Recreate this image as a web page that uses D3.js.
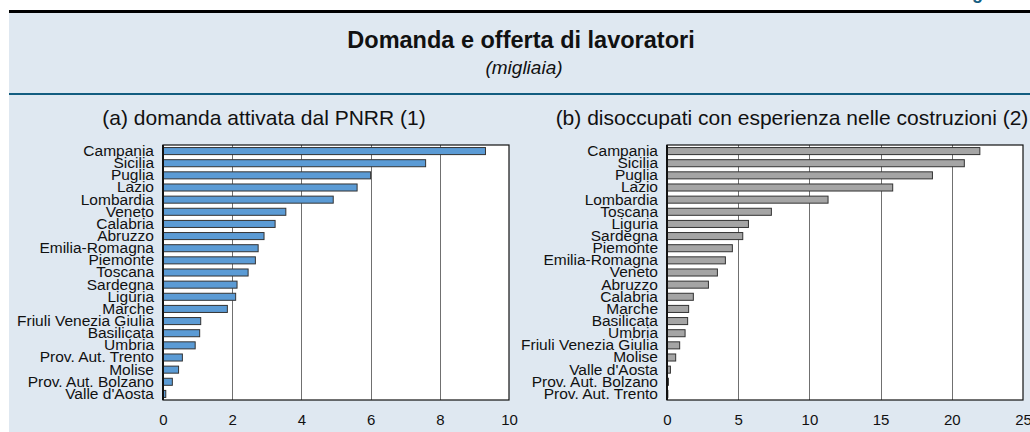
<!DOCTYPE html>
<html>
<head>
<meta charset="utf-8">
<script src="https://cdn.jsdelivr.net/npm/d3@7"></script>
<style>
  body { margin: 0; background: #fff; }
  svg { display: block; font-family: "Liberation Sans", Arial, sans-serif; }
</style>
</head>
<body>
<script>
// panel (a): demand activated by PNRR, thousands
const regionsA = ['Campania', 'Sicilia', 'Puglia', 'Lazio', 'Lombardia', 'Veneto', 'Calabria', 'Abruzzo',
  'Emilia-Romagna', 'Piemonte', 'Toscana', 'Sardegna', 'Liguria', 'Marche', 'Friuli Venezia Giulia',
  'Basilicata', 'Umbria', 'Prov. Aut. Trento', 'Molise', 'Prov. Aut. Bolzano', "Valle d'Aosta"];
const valuesA = [9.32, 7.59, 6.0, 5.61, 4.92, 3.55, 3.24, 2.92, 2.75, 2.67, 2.46, 2.14, 2.1, 1.86,
  1.09, 1.06, 0.93, 0.56, 0.45, 0.27, 0.08];
const ticksA = [0, 2, 4, 6, 8, 10];

// panel (b): unemployed with experience in construction, thousands
const regionsB = ['Campania', 'Sicilia', 'Puglia', 'Lazio', 'Lombardia', 'Toscana', 'Liguria', 'Sardegna',
  'Piemonte', 'Emilia-Romagna', 'Veneto', 'Abruzzo', 'Calabria', 'Marche', 'Basilicata', 'Umbria',
  'Friuli Venezia Giulia', 'Molise', "Valle d'Aosta", 'Prov. Aut. Bolzano', 'Prov. Aut. Trento'];
const valuesB = [21.97, 20.88, 18.64, 15.85, 11.31, 7.33, 5.72, 5.32, 4.59, 4.1, 3.54, 2.91, 1.85,
  1.52, 1.45, 1.27, 0.89, 0.61, 0.24, 0.1, 0.06];
const ticksB = [0, 5, 10, 15, 20, 25];

const W = 1030, H = 432;
const svg = d3.select('body').append('svg')
  .attr('width', W)
  .attr('height', H);

// header band
svg.append('rect')
  .attr('x', 9).attr('y', 13)
  .attr('width', W).attr('height', H)
  .attr('fill', '#dfe8f1');
svg.append('rect')
  .attr('x', 9).attr('y', 10)
  .attr('width', W).attr('height', 3)
  .attr('fill', '#000');
svg.append('rect')
  .attr('x', 9).attr('y', 93)
  .attr('width', W).attr('height', 2)
  .attr('fill', '#135d80');
svg.append('text')
  .attr('x', 956).attr('y', -1)
  .attr('font-size', 18).attr('font-weight', 'bold')
  .attr('fill', '#135d80')
  .text('Figura');

svg.append('text')
  .attr('x', 521).attr('y', 48)
  .attr('text-anchor', 'middle')
  .attr('font-size', 23.5).attr('font-weight', 'bold')
  .attr('fill', '#111')
  .text('Domanda e offerta di lavoratori');
svg.append('text')
  .attr('x', 524).attr('y', 74)
  .attr('text-anchor', 'middle')
  .attr('font-size', 19).attr('font-style', 'italic')
  .attr('fill', '#111')
  .text('(migliaia)');

function panel(opts) {
  const top = 145, bottom = 400;
  const x = d3.scaleLinear()
    .domain([0, opts.max])
    .range([opts.left, opts.right]);
  const y = d3.scaleBand()
    .domain(opts.regions)
    .range([top, bottom])
    .paddingInner(0.42)
    .paddingOuter(0.21);

  svg.append('text')
    .attr('x', opts.titleX).attr('y', 125)
    .attr('text-anchor', 'middle')
    .attr('font-size', 21)
    .attr('fill', '#111')
    .text(opts.title);

  svg.append('rect')
    .attr('x', opts.left).attr('y', top)
    .attr('width', opts.right - opts.left).attr('height', bottom - top)
    .attr('fill', '#fff');

  // gridlines
  svg.append('g')
    .selectAll('line')
    .data(opts.ticks.slice(1, -1))
    .enter()
    .append('line')
    .attr('x1', d => Math.round(x(d)) + 0.5)
    .attr('x2', d => Math.round(x(d)) + 0.5)
    .attr('y1', top)
    .attr('y2', bottom)
    .attr('stroke', '#707070')
    .attr('stroke-width', 1);

  svg.append('g')
    .selectAll('rect')
    .data(opts.values)
    .enter()
    .append('rect')
    .attr('x', x(0))
    .attr('y', (d, i) => y(opts.regions[i]))
    .attr('width', d => x(d) - x(0))
    .attr('height', y.bandwidth())
    .attr('fill', opts.color)
    .attr('stroke', '#333')
    .attr('stroke-width', 1);

  // frame
  svg.append('rect')
    .attr('x', opts.left).attr('y', top)
    .attr('width', opts.right - opts.left).attr('height', bottom - top)
    .attr('fill', 'none')
    .attr('stroke', '#111')
    .attr('stroke-width', 1.2);
  svg.append('line')
    .attr('x1', opts.left).attr('x2', opts.left)
    .attr('y1', top).attr('y2', bottom)
    .attr('stroke', '#111').attr('stroke-width', 2);

  const yAxis = d3.axisLeft(y).tickSize(0).tickPadding(9);
  const gy = svg.append('g')
    .attr('transform', `translate(${opts.left},0)`)
    .call(yAxis);
  gy.select('.domain').remove();
  gy.selectAll('text')
    .attr('font-size', 15.5)
    .attr('font-family', '"Liberation Sans", Arial, sans-serif')
    .attr('fill', '#111');

  const xAxis = d3.axisBottom(x).tickValues(opts.ticks).tickSize(0).tickPadding(14);
  const gx = svg.append('g')
    .attr('transform', `translate(0,${bottom})`)
    .call(xAxis);
  gx.select('.domain').remove();
  gx.selectAll('text')
    .attr('font-size', 15)
    .attr('font-family', '"Liberation Sans", Arial, sans-serif')
    .attr('fill', '#111');
}

panel({
  regions: regionsA, values: valuesA, ticks: ticksA, max: 10,
  left: 163, right: 509, color: '#5b9bd5', titleX: 264,
  title: '(a) domanda attivata dal PNRR (1)'
});
panel({
  regions: regionsB, values: valuesB, ticks: ticksB, max: 25,
  left: 667, right: 1023, color: '#a5a5a5', titleX: 792,
  title: '(b) disoccupati con esperienza nelle costruzioni (2)'
});
</script>
</body>
</html>
